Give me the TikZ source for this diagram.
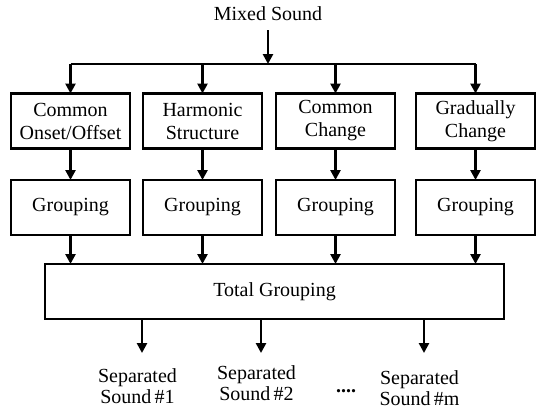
\documentclass[tikz,border=0pt]{standalone}
\usepackage{fontspec}
\setmainfont{Liberation Serif}
\usetikzlibrary{positioning, arrows.meta}

\begin{document}
\begin{tikzpicture}[x=1pt, y=-1pt, font=\fontsize{20}{23}\selectfont,
    cue/.style={draw, line width=2.3pt, minimum width=119pt, minimum height=55pt,
                inner sep=0pt, outer sep=0pt, align=center},
    arr/.style={-{Triangle[length=10pt, width=10pt]}, line width=2.8pt},
    wire/.style={line width=2.8pt},
    outl/.style={inner sep=0pt, align=center},
    sep/.style={outl, font=\fontsize{20}{21}\selectfont}]
\useasboundingbox (0,0) rectangle (537,408);
\node[outl, anchor=base, outer ysep=10pt] (mix)   at (268,20)    {Mixed Sound};
\coordinate                               (split) at (268,64);
\node[cue]                                (c1)    at (70.5,121)  {Common\\Onset/Offset};
\node[cue, right=13pt of c1]              (c2)                   {Harmonic\\Structure};
\node[cue, right=14pt of c2]              (c3)                   {Common\\Change};
\node[cue, right=21pt of c3]              (c4)                   {Gradually\\Change};
\node[cue, below=31.5pt of c1]            (g1)                   {Grouping};
\node[cue, below=31.5pt of c2]            (g2)                   {Grouping};
\node[cue, below=31.5pt of c3]            (g3)                   {Grouping};
\node[cue, below=31.5pt of c4]            (g4)                   {Grouping};
\node[cue, minimum width=459pt]           (tot)   at (274.5,291.5) {Total Grouping};
\coordinate                               (e1)    at (142,353);
\coordinate                               (e2)    at (261,353);
\coordinate                               (e3)    at (424,353);
\node[sep, below=15pt of e1, xshift=-4.5pt] (o1) {Separated\\Sound\,\#1};
\node[sep, below=12pt of e2, xshift=-4.5pt] (o2) {Separated\\Sound\,\#2};
\node[sep, below=17pt of e3, xshift=-4.5pt] (om) {Separated\\Sound\,\#m};
\node[outl, anchor=base]                  (dots)  at (346,392)   {\textbf{....}};
\draw[arr]  (mix) -- (split);
\draw[wire] (c1.north |- split) -- (c4.north |- split);
\path[arr]  (c1.north |- split) edge (c1)
            (c2.north |- split) edge (c2)
            (c3.north |- split) edge (c3)
            (c4.north |- split) edge (c4);
\path[arr]  (c1) edge (g1)
            (c2) edge (g2)
            (c3) edge (g3)
            (c4) edge (g4);
\path[arr]  (g1) edge (g1 |- tot.north)
            (g2) edge (g2 |- tot.north)
            (g3) edge (g3 |- tot.north)
            (g4) edge (g4 |- tot.north);
\path[arr]  (e1 |- tot.south) edge (e1)
            (e2 |- tot.south) edge (e2)
            (e3 |- tot.south) edge (e3);
\end{tikzpicture}
\end{document}
